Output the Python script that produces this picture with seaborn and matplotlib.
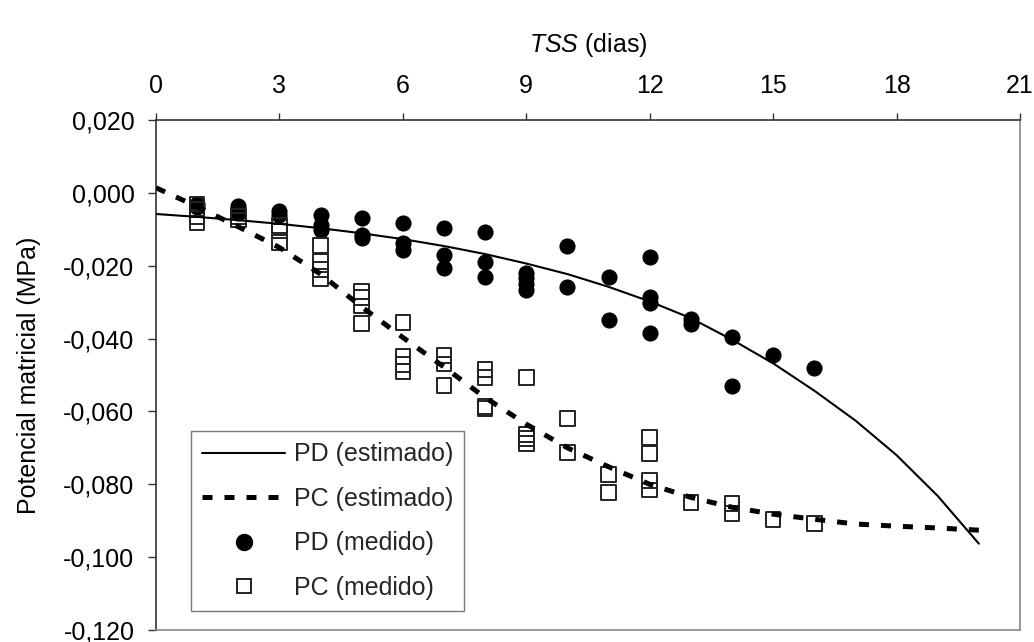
import matplotlib
matplotlib.use("Agg")
import matplotlib.pyplot as plt
from matplotlib.lines import Line2D
import seaborn as sns
import pandas as pd

# ---------------- data ----------------
est_days = list(range(0, 21))
pd_est = [-0.0058, -0.0066, -0.0075, -0.0085, -0.0097, -0.0111, -0.0127, -0.0146,
          -0.0168, -0.0194, -0.0223, -0.0258, -0.0298, -0.0344, -0.0403, -0.0468,
          -0.0543, -0.0625, -0.0720, -0.0832, -0.0963]
pc_est = [0.0014, -0.0038, -0.0093, -0.0150, -0.0223, -0.0313, -0.0397, -0.0478,
          -0.0562, -0.0635, -0.0700, -0.0752, -0.0800, -0.0836, -0.0863, -0.0882,
          -0.0896, -0.0909, -0.0915, -0.0920, -0.0926]

pd_med_days = [1, 1, 2, 2, 2, 3, 3, 4, 4, 4, 5, 5, 5, 6, 6, 6, 7, 7, 7, 8, 8, 8,
               9, 9, 9, 9, 10, 10, 11, 11, 12, 12, 12, 12, 13, 13, 14, 14, 15, 16]
pd_med = [-0.0030, -0.0040, -0.0035, -0.0045, -0.0055, -0.0050, -0.0060,
          -0.0060, -0.0088, -0.0101, -0.0068, -0.0116, -0.0124,
          -0.0082, -0.0137, -0.0156, -0.0096, -0.0170, -0.0206,
          -0.0107, -0.0189, -0.0230, -0.0219, -0.0235, -0.0250, -0.0266,
          -0.0145, -0.0258, -0.0230, -0.0348, -0.0175, -0.0285, -0.0301, -0.0384,
          -0.0345, -0.0360, -0.0397, -0.0529, -0.0444, -0.0482]

pc_med_days = [1, 1, 1, 1, 2, 2, 3, 3, 3, 4, 4, 4, 4, 5, 5, 5, 5, 6, 6, 6, 6,
               7, 7, 7, 8, 8, 8, 8, 9, 9, 9, 9, 10, 10, 11, 11, 12, 12, 12, 12,
               13, 14, 14, 15, 16]
pc_med = [-0.0030, -0.0045, -0.0066, -0.0083, -0.0065, -0.0074,
          -0.0090, -0.0105, -0.0137, -0.0145, -0.0189, -0.0211, -0.0236,
          -0.0271, -0.0288, -0.0310, -0.0359, -0.0356, -0.0449, -0.0471, -0.0490,
          -0.0447, -0.0470, -0.0529, -0.0485, -0.0507, -0.0586, -0.0592,
          -0.0507, -0.0663, -0.0675, -0.0688, -0.0620, -0.0712, -0.0773, -0.0822,
          -0.0671, -0.0715, -0.0789, -0.0816, -0.0850, -0.0852, -0.0880,
          -0.0896, -0.0907]

x_ticks = [0, 3, 6, 9, 12, 15, 18, 21]
y_ticks = [0.020, 0.000, -0.020, -0.040, -0.060, -0.080, -0.100, -0.120]
y_ticklabels = ["0,020", "0,000", "-0,020", "-0,040", "-0,060", "-0,080", "-0,100", "-0,120"]

labels = ["PD (estimado)", "PC (estimado)", "PD (medido)", "PC (medido)"]
x_title = r"$\mathit{TSS}$ (dias)"
y_title = "Potencial matricial (MPa)"

# ---------------- style ----------------
sns.set_theme(style="white")
plt.rcParams["font.family"] = ["Liberation Sans", "DejaVu Sans"]
plt.rcParams["mathtext.fontset"] = "custom"
plt.rcParams["mathtext.it"] = "Liberation Sans:italic"
plt.rcParams["mathtext.rm"] = "Liberation Sans"
FS = 18

W, H = 1034, 642
fig = plt.figure(figsize=(W / 100, H / 100), dpi=100)
L, R, T, B = 156, 1020, 120, 630
ax = fig.add_axes([L / W, (H - B) / H, (R - L) / W, (B - T) / H])

est_df = pd.DataFrame({"d": est_days, "pd": pd_est, "pc": pc_est})
pdm = pd.DataFrame({"d": pd_med_days, "v": pd_med})
pcm = pd.DataFrame({"d": pc_med_days, "v": pc_med})

sns.scatterplot(data=pdm, x="d", y="v", ax=ax, marker="o", s=135,
                color="black", edgecolor="black", linewidth=0, zorder=3)
sns.scatterplot(data=pcm, x="d", y="v", ax=ax, marker="s", s=110,
                facecolor="none", edgecolor="#222222", linewidth=1.4, zorder=4)
sns.lineplot(data=est_df, x="d", y="pd", ax=ax, color="black", linewidth=1.5,
             zorder=5)
sns.lineplot(data=est_df, x="d", y="pc", ax=ax, color="black", linewidth=3.6,
             zorder=6)
ax.lines[-1].set_dashes((2.0, 2.4))
ax.lines[-1].set_dash_capstyle("butt")

ax.set_xlim(0, 21)
ax.set_ylim(-0.12, 0.02)
ax.set_xticks(x_ticks)
ax.set_xticklabels([str(t) for t in x_ticks])
ax.set_yticks(y_ticks)
ax.set_yticklabels(y_ticklabels)

ax.xaxis.tick_top()
ax.xaxis.set_label_position("top")
ax.tick_params(axis="x", which="both", top=True, bottom=False, direction="out",
               length=5, width=1, color="#333333", labelsize=FS, pad=10.5,
               labelcolor="black")
ax.tick_params(axis="y", which="both", left=True, direction="out",
               length=5.5, width=1, color="#333333", labelsize=FS, pad=10,
               labelcolor="black")
ax.set_xlabel(x_title, fontsize=FS, labelpad=16, color="black")
ax.set_ylabel(y_title, fontsize=FS, labelpad=16, color="black")

for side in ["top", "left"]:
    ax.spines[side].set_color("#333333")
    ax.spines[side].set_linewidth(1.2)
for side in ["right", "bottom"]:
    ax.spines[side].set_color("#888888")
    ax.spines[side].set_linewidth(1.2)

handles = [
    Line2D([], [], color="black", linewidth=1.5),
    Line2D([], [], color="black", linewidth=3.6, dashes=(2.0, 2.4),
           dash_capstyle="butt"),
    Line2D([], [], linestyle="none", marker="o", markersize=11.5,
           markerfacecolor="black", markeredgecolor="black"),
    Line2D([], [], linestyle="none", marker="s", markersize=10.5,
           markerfacecolor="none", markeredgecolor="#222222", markeredgewidth=1.4),
]
leg = ax.legend(handles, labels, loc="upper left",
                bbox_to_anchor=((191 - L) / (R - L), (B - 431) / (B - T)),
                borderaxespad=0, fontsize=FS, frameon=True, fancybox=False,
                handlelength=3.3, handletextpad=0.36, labelspacing=0.82,
                borderpad=0.45, edgecolor="#555555")
leg.get_frame().set_linewidth(1.0)

fig.savefig("out.png", dpi=100)
